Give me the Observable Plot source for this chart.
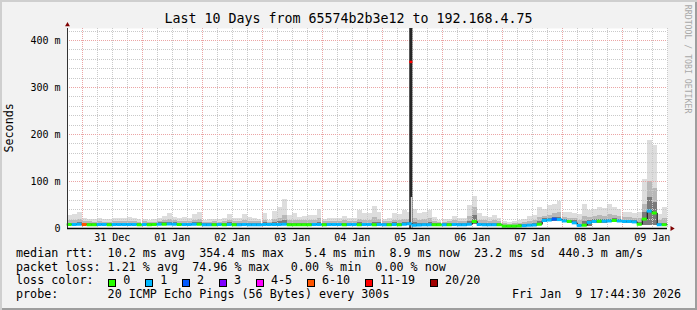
<!DOCTYPE html>
<html>
<head>
<meta charset="utf-8">
<script src="https://cdn.jsdelivr.net/npm/d3@7"></script>
<script src="https://cdn.jsdelivr.net/npm/@observablehq/plot@0.6"></script>
<style>
  html, body { margin: 0; padding: 0; background: #f0f0f0; }
  #card { position: relative; width: 697px; height: 310px; background: #f2f2f2; overflow: hidden;
          box-shadow: inset 2px 2px 0 #cfcfcf, inset -2px -2px 0 #9e9e9e;
          font-family: "DejaVu Sans Mono", monospace; color: #000; }
  #card svg { position: absolute; left: 0; top: 0; }
  .t { position: absolute; white-space: pre; }
  .box { position: absolute; width: 8px; height: 8px; box-sizing: border-box; border: 1px solid #000; }
</style>
</head>
<body>
<div id="card"></div>
<script>
// ---------- data (2-hour bins, first bin starts Dec 30 18:00) ----------
const binStartHour = 18;     // hours since Dec 30 00:00
const binHours = 2;
const xDomain = [18.1, 258.1];
const yDomain = [0, 425.5];

const median = [
  8.5, 8.5, 9,
  8.5, 8, 8, 8.5, 8.5, 8, 8.5, 8.5, 8.5, 8.5, 8.5, 8,
  8.5, 8, 8.5, 9, 9, 9.5, 9, 8.5, 8.5, 8.5, 9, 9,
  8, 8, 8, 8.5, 8, 8.5, 8, 8, 8.5, 8, 8, 8,
  8.5, 8.5, 8.5, 8.5, 9, 8, 8, 8, 8, 8, 8.5, 8.5,
  8, 8.5, 8.5, 8.5, 8, 8.5, 8.5, 8, 8.5, 8.5, 8, 8.5,
  8, 8, 8.5, 8, 9, 10, 7, 7.5, 8, 8, 8, 8,
  8, 8, 8.5, 8, 8, 9, 15, 8.5, 8, 8, 8, 8,
  5, 5, 5, 5.5, 6, 7, 7.5, 9, 17, 18, 20, 19,
  16, 15, 12, 6.5, 7, 13, 15, 15.5, 15.5, 16, 17, 16,
  15, 15, 14, 9, 20, 37, 33, 8, 8
];
const lossCount = [
  0, 1, 1,
  8, 0, 0, 1, 1, 0, 1, 1, 1, 1, 1, 0,
  1, 0, 0, 1, 0, 1, 1, 0, 1, 1, 1, 0,
  1, 1, 0, 1, 0, 1, 0, 1, 1, 1, 1, 1,
  1, 1, 1, 1, 1, 0, 0, 0, 0, 0, 1, 1,
  0, 1, 1, 1, 0, 1, 1, 0, 1, 1, 0, 1,
  1, 0, 1, 0, 1, 1, 1, 1, 1, 1, 0, 0,
  1, 0, 1, 1, 1, 1, 0, 1, 1, 1, 1, 0,
  0, 0, 0, 0, 1, 1, 1, 0, 1, 1, 2, 1,
  1, 0, 1, 1, 0, 1, 1, 0, 1, 1, 0, 1,
  1, 1, 1, 0, 0, 1, 0, 1, 0
];
const smokeLo = [
  5.5, 5.5, 6,
  5.5, 5, 5, 5.5, 5.5, 5, 5.5, 5.5, 5.5, 5.5, 5.5, 5,
  5.5, 5, 5.5, 6, 6, 6, 6, 5.5, 5.5, 5.5, 6, 6,
  5, 5, 5, 5.5, 5, 5.5, 5, 5, 5.5, 5, 5, 5,
  5.5, 5.5, 5.5, 5.5, 6, 5, 5, 5, 5, 5, 5.5, 5.5,
  5, 5.5, 5.5, 5.5, 5, 5.5, 5.5, 5, 5.5, 5.5, 5, 5.5,
  5, 5, 5.5, 5, 6, 6, 4.5, 5, 5, 5, 5, 5,
  5, 5, 5.5, 5, 5, 6, 8, 5.5, 5, 5, 5, 5,
  3, 3, 3, 3.5, 4, 4.5, 5, 6, 13, 14, 15, 15,
  12, 11, 8, 4, 5, 5, 11, 11.5, 11.5, 12, 13, 12,
  11, 11, 10, 6, 7, 7, 7, 5.5, 5.5
];
const smokeInner = [
  11, 11, 12,
  11, 10, 10, 11, 10, 10, 11, 11, 11, 11, 11, 10,
  11, 10, 11, 12, 12, 13, 12, 11, 11, 11, 12, 12,
  10, 10, 10, 11, 10, 12, 10, 10, 11, 10, 10, 10,
  12, 11, 12, 14, 16, 10, 11, 10, 10, 10, 11, 12,
  10, 11, 11, 11, 11, 11, 11, 12, 11, 11, 13, 12,
  10, 10, 12, 11, 12, 13, 12, 10, 11, 12, 10, 10,
  10, 10, 11, 10, 10, 14, 28, 11, 10, 10, 10, 10,
  7, 7, 7, 8, 8, 9, 10, 14, 21, 22, 24, 23,
  20, 18, 16, 9, 14, 18, 19, 19, 19, 20, 21, 19,
  18, 18, 17, 12, 35, 65, 55, 11, 11
];
const smokeMid = [
  17, 18, 19,
  14, 14, 13, 14, 12, 13, 14, 14, 15, 15, 14, 13,
  14, 13, 13, 15, 17, 20, 16, 14, 15, 14, 18, 19,
  13, 13, 14, 13, 14, 18, 15, 14, 17, 15, 14, 14,
  18, 13, 20, 22, 28, 17, 18, 16, 17, 17, 17, 22,
  14, 14, 15, 15, 16, 15, 14, 20, 18, 18, 24, 20,
  14, 14, 18, 17, 20, 19, 22, 18, 19, 21, 15, 13,
  13, 14, 16, 14, 15, 25, 45, 18, 16, 15, 16, 14,
  10, 9, 10, 11, 12, 14, 16, 24, 26, 28, 32, 33,
  24, 22, 22, 16, 26, 24, 25, 27, 26, 30, 28, 26,
  23, 24, 22, 22, 50, 100, 85, 18, 22
];
const smokeHi = [
  28, 30, 33,
  22, 20, 20, 21, 19, 20, 22, 21, 22, 24, 22, 19,
  20, 18, 19, 22, 26, 32, 24, 22, 24, 22, 30, 33,
  18, 19, 20, 19, 21, 30, 22, 21, 29, 23, 22, 20,
  32, 18, 36, 45, 61, 28, 32, 24, 26, 27, 28, 40,
  20, 21, 22, 22, 25, 22, 21, 38, 31, 31, 47, 34,
  20, 21, 32, 30, 38, 34, 40, 31, 33, 38, 23, 17,
  19, 20, 25, 21, 22, 48, 69, 31, 26, 23, 27, 22,
  14, 13, 15, 17, 20, 25, 28, 45, 40, 48, 52, 58,
  35, 33, 32, 30, 50, 38, 40, 44, 42, 52, 45, 40,
  33, 35, 31, 35, 105, 188, 176, 30, 44
];
// short outage on Jan 5 (hours since Dec 30 00:00)
const spikeStart = [155.0];
const spikeEnd = [156.25];
const spikeLo = [66];
const spikeHi = [440];
const spikeMedian = [354.4];
const spikeLoss = [15];
// missing-data hours (thin blank columns just before midnight)
const gapHours = [47.6, 95.6, 119.6, 143.6, 167.6, 191.6, 215.6, 239.6];

const dayLabels = ["31 Dec", "01 Jan", "02 Jan", "03 Jan", "04 Jan", "05 Jan", "06 Jan", "07 Jan", "08 Jan", "09 Jan"];
const dayLabelHours = [36, 60, 84, 108, 132, 156, 180, 204, 228, 252];
const yTicks = [0, 100, 200, 300, 400];
const yTickLabels = ["0", "100 m", "200 m", "300 m", "400 m"];

const lossLabels = ["0", "1", "2", "3", "4-5", "6-10", "11-19", "20/20"];
const lossMax = [0, 1, 2, 3, 5, 10, 19, 20];
const lossColors = ["#26ff00", "#00b8ff", "#0059ff", "#7e00ff", "#ff00ff", "#ff5500", "#ff0000", "#a00000"];

const rttNames = ["avg", "max", "min", "now", "sd"];
const rttValues = ["10.2", "354.4", "5.4", "8.9", "23.2"];
const amPerSec = "440.3";
const lossNames = ["avg", "max", "min", "now"];
const lossValues = ["1.21", "74.96", "0.00", "0.00"];
const titleText = "Last 10 Days from 65574b2b3e12 to 192.168.4.75";
const probeText = "20 ICMP Echo Pings (56 Bytes) every 300s";
const dateText = "Fri Jan  9 17:44:30 2026";
const yLabel = "Seconds";
const watermark = "RRDTOOL / TOBI OETIKER";

// ---------- build ----------
const lossColor = n => lossColors[lossMax.findIndex(m => n <= m)];
const bins = median.map((m, i) => ({
  start: binStartHour + i * binHours, end: binStartHour + (i + 1) * binHours,
  median: m, loss: lossCount[i], lo: smokeLo[i], inner: smokeInner[i], mid: smokeMid[i], hi: smokeHi[i]
}));
const spikes = spikeStart.map((s, i) => ({start: s, end: spikeEnd[i], lo: spikeLo[i], hi: spikeHi[i], median: spikeMedian[i], loss: spikeLoss[i], base: 0}));
const stepPts = bins.map(b => ({h: b.start, v: b.median})).concat([{h: bins[bins.length - 1].end, v: bins[bins.length - 1].median}]);
const gaps = gapHours.map(g => ({h: g, top: bins.find(b => b.start <= g && g < b.end).hi, base: 0}));

const minorY = d3.range(20, yDomain[1], 20).filter(v => v % 100 !== 0);
const majorY = d3.range(100, yDomain[1], 100);
const minorX = d3.range(Math.ceil(xDomain[0] / 6) * 6, xDomain[1], 6).filter(h => h % 24 !== 0);
const majorX = d3.range(Math.ceil(xDomain[0] / 24) * 24, xDomain[1], 24);
const dayLabelMap = new Map(dayLabelHours.map((h, i) => [h, dayLabels[i]]));
const yLabelMap = new Map(yTicks.map((v, i) => [v, yTickLabels[i]]));

const gridMinor = "#c9c9c9", gridMajor = "#eba5a5";

const chart = Plot.plot({
  width: 697, height: 310,
  marginLeft: 67, marginRight: 30, marginTop: 28, marginBottom: 82,
  style: {background: "transparent", fontFamily: "'DejaVu Sans Mono', monospace", fontSize: "10px", color: "#000", overflow: "visible"},
  x: {domain: xDomain, label: null},
  y: {domain: yDomain, label: null},
  marks: [
    Plot.frame({fill: "#ffffff", stroke: "none"}),
    // smoke
    Plot.rect(bins, {x1: "start", x2: "end", y1: "lo", y2: "hi", fill: "#dddddd", shapeRendering: "crispEdges"}),
    Plot.rect(bins, {x1: "start", x2: "end", y1: "lo", y2: "mid", fill: "#b8b8b8", shapeRendering: "crispEdges"}),
    Plot.rect(bins, {x1: "start", x2: "end", y1: "lo", y2: "inner", fill: "#7a7a7a", shapeRendering: "crispEdges"}),
    // grid
    Plot.ruleY(minorY, {stroke: gridMinor, strokeDasharray: "1,1", shapeRendering: "crispEdges"}),
    Plot.ruleX(minorX, {stroke: gridMinor, strokeDasharray: "1,1", shapeRendering: "crispEdges"}),
    Plot.ruleY(majorY, {stroke: gridMajor, strokeDasharray: "1,1", shapeRendering: "crispEdges"}),
    Plot.ruleX(majorX, {stroke: gridMajor, strokeDasharray: "1,1", shapeRendering: "crispEdges"}),
    // data gaps
    Plot.ruleX(gaps, {x: "h", y1: "base", y2: "top", stroke: "#ffffff", strokeWidth: 1, shapeRendering: "crispEdges"}),
    // outage spike
    Plot.rect(spikes, {x1: "start", x2: "end", y1: "base", y2: "hi", fill: "#262626", clip: true}),
    Plot.ruleX(spikes, {x: d => (d.start + d.end) / 2, y1: "base", y2: "lo", stroke: "#ffffff", strokeWidth: 1}),
    Plot.ruleY(spikes, {y: "median", x1: "start", x2: "end", stroke: d => lossColor(d.loss), strokeWidth: 2.5}),
    // median line
    Plot.line(stepPts, {x: "h", y: "v", curve: "step-after", stroke: "#111111", strokeWidth: 1}),
    Plot.ruleY(bins, {y: "median", x1: "start", x2: "end", stroke: d => lossColor(d.loss), strokeWidth: 3}),
    // axes
    Plot.ruleX([xDomain[0]], {stroke: "#333333", strokeWidth: 1}),
    Plot.ruleY([yDomain[0]], {stroke: "#000000", strokeWidth: 1.6}),
    Plot.dot([0], {frameAnchor: "top-left", symbol: "triangle", r: 1.8, fill: "#7f0000", stroke: "none", dy: -3.7}),
    Plot.dot([0], {frameAnchor: "bottom-right", symbol: "triangle", r: 1.8, fill: "#7f0000", stroke: "none", rotate: 90, dx: 4.4}),
    Plot.axisX(dayLabelHours, {tickSize: 0, tickPadding: 5.5, tickFormat: d => dayLabelMap.get(d), label: null, fontSize: 10}),
    Plot.axisY(yTicks, {tickSize: 0, tickPadding: 7, tickFormat: d => yLabelMap.get(d), label: null, fontSize: 10})
  ]
});

const card = document.getElementById("card");
card.appendChild(chart);

// ---------- text (title, legend) ----------
function addText(txt, opts) {
  const d = document.createElement("div");
  d.className = "t";
  d.textContent = txt;
  Object.assign(d.style, opts);
  card.appendChild(d);
  return d;
}
const asc = 0.846; // baseline offset (fraction of font size) for line-height:1
function line(txt, x, baseline, size) {
  return addText(txt, {left: x + "px", top: (baseline - asc * size) + "px", fontSize: size + "px", lineHeight: size + "px"});
}
// title
addText(titleText, {left: "0px", width: "697px", textAlign: "center", top: (23.5 - asc * 13.3) + "px", fontSize: "13.3px", lineHeight: "13.3px"});
// y label (rotated)
addText(yLabel, {left: (9.75 - 40) + "px", width: "80px", textAlign: "center", top: (128 - 11.7 / 2) + "px",
  fontSize: "11.7px", lineHeight: "11.7px", transform: "rotate(-90deg)"});
// watermark
addText(watermark, {left: (688.3 - 60) + "px", width: "120px", textAlign: "center", top: (59 - 8.2 / 2) + "px",
  fontSize: "8.2px", lineHeight: "8.2px", color: "#a8a8a8", transform: "rotate(90deg)"});

const LF = 11.71;
const rows = [257.6, 271.5, 285.4, 299.3];
const rttPart = rttNames.map((n, i) => `${rttValues[i]} ms ${n}`);
line(`median rtt:  ${rttPart[0]}  ${rttPart[1]}   ${rttPart[2]}  ${rttPart[3]}  ${rttPart[4]}  ${amPerSec} m am/s`, 16, rows[0], LF);
const lossPart = lossNames.map((n, i) => `${lossValues[i]} % ${n}`);
line(`packet loss: ${lossPart[0]}  ${lossPart[1]}   ${lossPart[2]}  ${lossPart[3]}`, 16, rows[1], LF);
line("loss color:", 16, rows[2], LF);
let bx = 108.3;
lossLabels.forEach((lab, i) => {
  const b = document.createElement("div");
  b.className = "box";
  Object.assign(b.style, {left: bx + "px", top: "278.5px", background: lossColors[i]});
  card.appendChild(b);
  line(lab, bx + 15, rows[2], LF);
  bx += 36.9 + 7.05 * (lab.length - 1);
});
line(`probe:       ${probeText}`, 16, rows[3], LF);
addText(dateText, {right: "16px", top: (rows[3] - asc * LF) + "px", fontSize: LF + "px", lineHeight: LF + "px"});
</script>
</body>
</html>
